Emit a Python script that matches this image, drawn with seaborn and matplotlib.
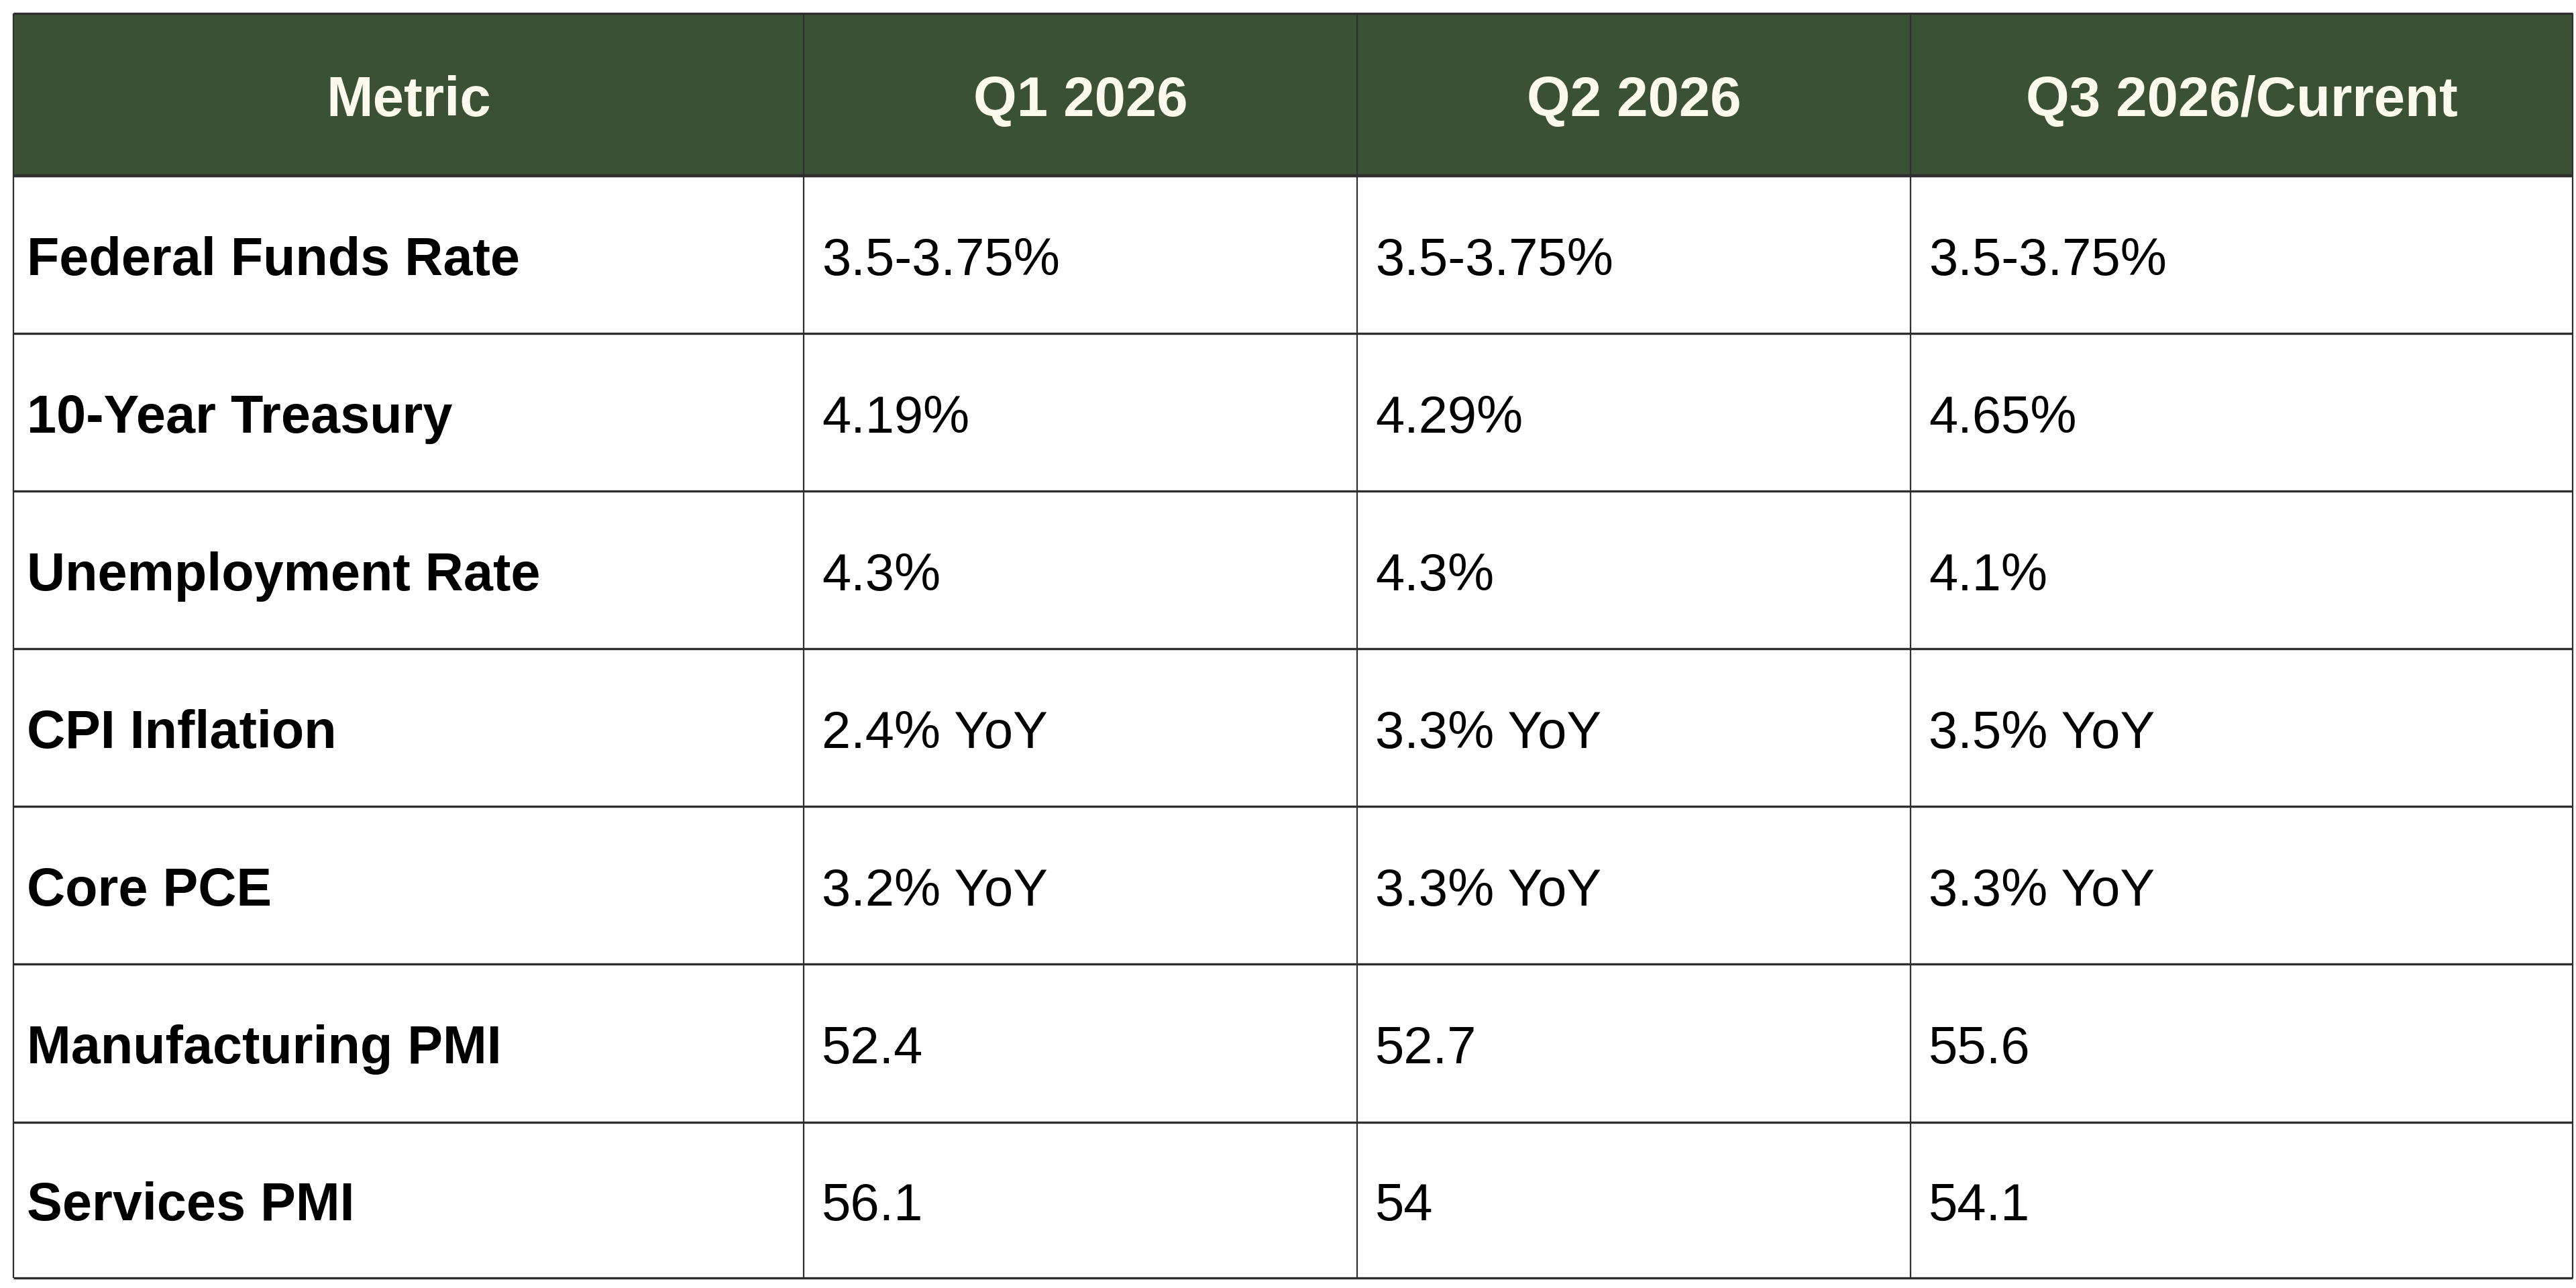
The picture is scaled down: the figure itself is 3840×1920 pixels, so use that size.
import numpy as np
import matplotlib
matplotlib.use("Agg")
import matplotlib.pyplot as plt
from matplotlib.colors import ListedColormap
import seaborn as sns

# ---- data ----
headers = ["Metric", "Q1 2026", "Q2 2026", "Q3 2026/Current"]
metrics = ["Federal Funds Rate", "10-Year Treasury", "Unemployment Rate",
           "CPI Inflation", "Core PCE", "Manufacturing PMI", "Services PMI"]
q1_2026 = ["3.5-3.75%", "4.19%", "4.3%", "2.4% YoY", "3.2% YoY", "52.4", "56.1"]
q2_2026 = ["3.5-3.75%", "4.29%", "4.3%", "3.3% YoY", "3.3% YoY", "52.7", "54"]
q3_2026 = ["3.5-3.75%", "4.65%", "4.1%", "3.5% YoY", "3.3% YoY", "55.6", "54.1"]

# ---- layout ----
W, H = 3840, 1920
x_edges = np.array([20, 1198, 2023, 2848, 3835])
y_edges = np.array([20, 262, 497, 732, 967, 1202, 1437, 1673, 1905])
header_color = "#3A5135"
header_text = "#FBFAEC"
line_color = "#2E2E2E"
text_dy = 10

sns.set_theme(style="white")
plt.rcParams["font.family"] = ["Liberation Sans", "DejaVu Sans"]

fig = plt.figure(figsize=(W / 100, H / 100), dpi=100)
ax = fig.add_axes([0, 0, 1, 1])
ax.set_xlim(0, W)
ax.set_ylim(H, 0)
ax.axis("off")

nrows = len(metrics) + 1
ncols = len(headers)
cells = np.zeros((nrows, ncols))
cells[0, :] = 1
ax.pcolormesh(x_edges, y_edges, cells, cmap=ListedColormap(["white", header_color]),
              vmin=0, vmax=1, shading="flat")

# grid lines
ax.hlines(y_edges, x_edges[0], x_edges[-1], color=line_color, lw=2.4, zorder=3)
ax.hlines(y_edges[1], x_edges[0], x_edges[-1], color=line_color, lw=3.2, zorder=3)
ax.vlines(x_edges, y_edges[0], y_edges[-1], color=line_color, lw=1.6, zorder=3)

# header text
hy = (y_edges[0] + y_edges[1]) / 2 + text_dy
for j, h in enumerate(headers):
    cx = (x_edges[j] + x_edges[j + 1]) / 2
    ax.text(cx, hy, h, ha="center", va="center", color=header_text,
            fontsize=60, fontweight="bold", zorder=4)

# body text
columns = [metrics, q1_2026, q2_2026, q3_2026]
for i in range(len(metrics)):
    cy = (y_edges[i + 1] + y_edges[i + 2]) / 2 + text_dy
    for j, col in enumerate(columns):
        if j == 0:
            ax.text(x_edges[0] + 20, cy, col[i], ha="left", va="center",
                    color="black", fontsize=57, fontweight="bold", zorder=4)
        else:
            ax.text(x_edges[j] + 27, cy, col[i], ha="left", va="center",
                    color="black", fontsize=56, zorder=4)

fig.savefig("out.png", dpi=100, facecolor="white")
